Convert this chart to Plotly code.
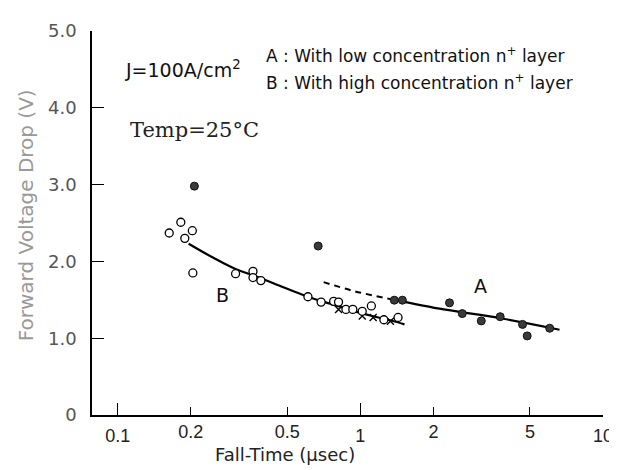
import plotly.graph_objects as go

# ---- data ----
b_open_x = [0.182, 0.163, 0.203, 0.189, 0.204, 0.306, 0.361, 0.361, 0.389, 0.608,
            0.689, 0.776, 0.813, 0.872, 0.931, 1.018, 1.11, 1.25, 1.43]
b_open_y = [2.51, 2.37, 2.40, 2.30, 1.85, 1.84, 1.87, 1.79, 1.75, 1.54,
            1.47, 1.48, 1.47, 1.375, 1.375, 1.35, 1.42, 1.24, 1.27]
b_cross_x = [0.813, 1.018, 1.129, 1.33]
b_cross_y = [1.375, 1.29, 1.27, 1.22]
a_dot_x = [0.207, 0.67, 1.38, 1.49, 2.33, 2.63, 3.15, 3.77, 4.66, 4.87, 6.03]
a_dot_y = [2.98, 2.20, 1.495, 1.495, 1.46, 1.32, 1.225, 1.28, 1.18, 1.03, 1.13]

curve_b_x = [0.196, 0.25, 0.306, 0.361, 0.45, 0.608, 0.75, 0.951, 1.15, 1.34, 1.52]
curve_b_y = [2.23, 2.04, 1.90, 1.82, 1.70, 1.54, 1.45, 1.35, 1.28, 1.23, 1.18]
curve_a_dash_x = [0.706, 0.951, 1.38]
curve_a_dash_y = [1.73, 1.61, 1.50]
curve_a_solid_x = [1.38, 2.21, 3.77, 6.62]
curve_a_solid_y = [1.50, 1.375, 1.26, 1.11]

x_major_ticks = [0.1, 1, 10]
x_major_text = ["0.1", "1", "10"]
x_minor_ticks = [0.2, 0.5, 2, 5]
x_minor_text = ["0.2", "0.5", "2", "5"]
y_ticks = [0, 1, 2, 3, 4, 5]
y_text = ["0", "1.0", "2.0", "3.0", "4.0", "5.0"]

SANS = "DejaVu Sans"
XFONT = dict(family="Liberation Sans", size=18, color="#222")

fig = go.Figure()
fig.add_trace(go.Scatter(x=curve_b_x, y=curve_b_y, mode="lines",
                         line=dict(color="black", width=2.2, shape="spline"), showlegend=False))
fig.add_trace(go.Scatter(x=curve_a_dash_x, y=curve_a_dash_y, mode="lines",
                         line=dict(color="black", width=2, dash="6px,5px", shape="spline"), showlegend=False))
fig.add_trace(go.Scatter(x=curve_a_solid_x, y=curve_a_solid_y, mode="lines",
                         line=dict(color="black", width=2.2, shape="spline"), showlegend=False))
fig.add_trace(go.Scatter(x=b_cross_x, y=b_cross_y, mode="markers",
                         marker=dict(symbol="x-thin-open", size=7, color="black",
                                     line=dict(color="black", width=1.4)),
                         showlegend=False))
fig.add_trace(go.Scatter(x=b_open_x, y=b_open_y, mode="markers",
                         marker=dict(symbol="circle", size=8, color="white",
                                     line=dict(color="black", width=1.3)), showlegend=False))
fig.add_trace(go.Scatter(x=a_dot_x, y=a_dot_y, mode="markers",
                         marker=dict(symbol="circle", size=8, color="#3a3a3a",
                                     line=dict(color="#111", width=1)), showlegend=False))
# invisible trace that activates the second x axis (short ticks)
fig.add_trace(go.Scatter(x=[1], y=[0], xaxis="x2", mode="markers",
                         marker=dict(opacity=0), showlegend=False, hoverinfo="skip"))

xr = [-1.106, 1.0]
fig.update_layout(
    width=617, height=470,
    margin=dict(l=84, r=16, t=18, b=63),
    paper_bgcolor="white", plot_bgcolor="white",
    xaxis=dict(type="log", range=xr, showgrid=False, zeroline=False,
               showline=True, linecolor="black", linewidth=1.5,
               tickmode="array", tickvals=x_major_ticks, ticktext=x_major_text,
               ticks="inside", ticklen=12, tickwidth=1.3, tickcolor="black",
               ticklabelstandoff=4, ticklabeloverflow="allow", tickfont=XFONT),
    xaxis2=dict(type="log", range=xr, overlaying="x", side="bottom", anchor="y",
                showgrid=False, zeroline=False, showline=False,
                tickmode="array", tickvals=x_minor_ticks, ticktext=x_minor_text,
                ticks="inside", ticklen=8, tickwidth=1.3, tickcolor="black",
                ticklabelstandoff=4, tickfont=XFONT),
    yaxis=dict(range=[0, 5], showgrid=False, zeroline=False,
               showline=True, linecolor="black", linewidth=1.5,
               tickmode="array", tickvals=y_ticks, ticktext=y_text,
               ticks="inside", ticklen=12, tickwidth=1.3, tickcolor="black",
               ticklabelstandoff=10,
               tickfont=dict(family=SANS, size=18, color="#555")),
)

anns = [
    dict(text="J=100A/cm<sup>2</sup>", x=0.060, y=0.900, xanchor="left", yanchor="middle",
         font=dict(family=SANS, size=19, color="#111")),
    dict(text="A : With low concentration n<sup>+</sup> layer", x=0.337, y=0.938,
         xanchor="left", yanchor="middle", font=dict(family=SANS, size=17, color="#111")),
    dict(text="B : With high concentration n<sup>+</sup> layer", x=0.337, y=0.866,
         xanchor="left", yanchor="middle", font=dict(family=SANS, size=17, color="#111")),
    dict(text="Temp=25°C", x=0.0697, y=0.743, xanchor="left", yanchor="middle",
         font=dict(family="DejaVu Serif", size=21, color="#222")),
    dict(text="Forward Voltage Drop (V)", x=-0.13, y=0.519, textangle=-90,
         xanchor="center", yanchor="middle", font=dict(family=SANS, size=20, color="#999")),
    dict(text="Fall-Time (μsec)", x=0.377, y=-0.104, xanchor="center", yanchor="middle",
         font=dict(family=SANS, size=18, color="#222")),
]
for a in anns:
    a.update(xref="paper", yref="paper", showarrow=False)
    fig.add_annotation(**a)

# series labels placed in data coordinates
fig.add_annotation(text="A", x=0.497, y=1.68, xref="x", yref="y", showarrow=False,
                   font=dict(family=SANS, size=19, color="#111"))
fig.add_annotation(text="B", x=-0.568, y=1.56, xref="x", yref="y", showarrow=False,
                   font=dict(family=SANS, size=19, color="#111"))

fig.write_html("out.html")
